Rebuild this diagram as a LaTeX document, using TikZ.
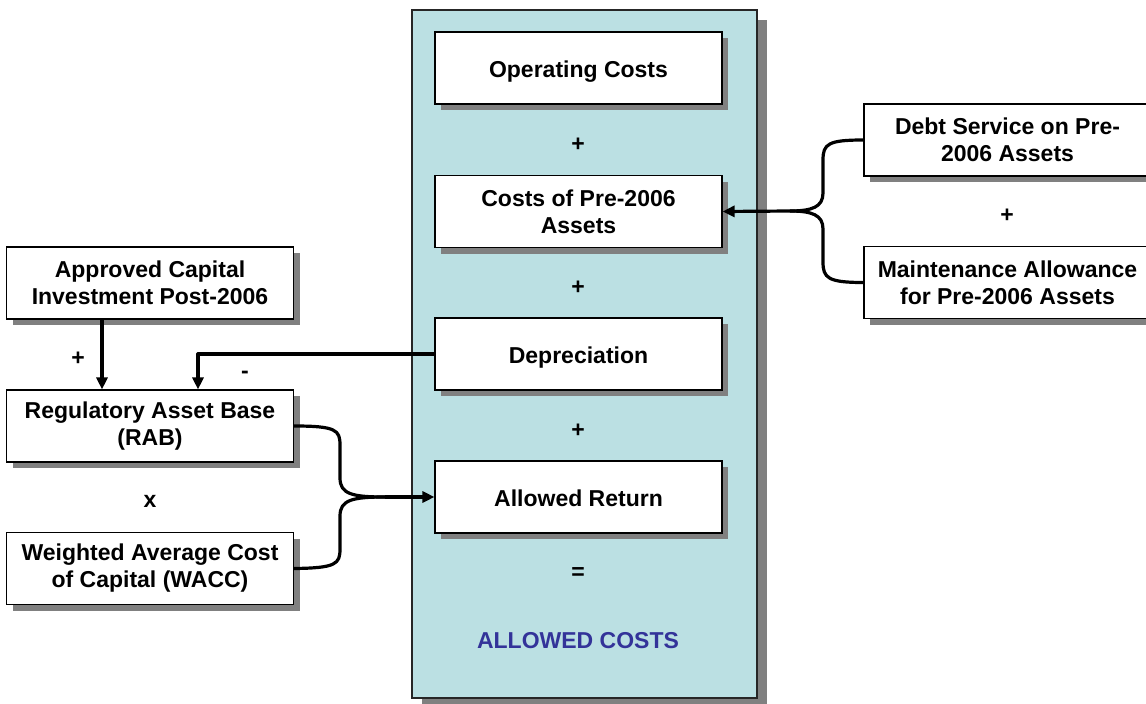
\documentclass[tikz,border=0pt]{standalone}
\usepackage{fontspec}
\setmainfont{Liberation Sans}
\usetikzlibrary{shadows,arrows.meta}
\definecolor{panelblue}{HTML}{BBE0E3}
\definecolor{shadowgray}{HTML}{808080}
\definecolor{titleblue}{HTML}{333399}
\begin{document}
\begin{tikzpicture}[x=1pt,y=-1pt,
  txt/.style={font=\fontsize{23}{27}\selectfont\bfseries},
  box/.style={txt,draw=black,line width=1.1pt,fill=white,minimum width=287pt,minimum height=72pt,align=center,inner sep=0pt,
    drop shadow={shadow xshift=6pt,shadow yshift=-6pt,fill=shadowgray,opacity=1}},
  oneline/.style={text height=19pt,text depth=0pt},
  panel/.style={draw=black!85,line width=1.1pt,fill=panelblue,minimum width=345pt,minimum height=688pt,inner sep=0pt,
    drop shadow={shadow xshift=10pt,shadow yshift=-10pt,fill=shadowgray,opacity=1}},
  sym/.style={txt,inner sep=0pt},
  conn/.style={line width=3.2pt,line join=round},
  tip/.style={-{Triangle[length=12pt,width=11pt]}}
]
\useasboundingbox (0,0) rectangle (1146,704);
\node[panel] (panel) at (584.5,354) {};
\node[box,oneline] (ops) at (578.5,68) {Operating Costs};
\node[box] (pre) at (578.5,211.5) {Costs of Pre-2006\\Assets};
\node[box,oneline] (dep) at (578.5,354) {Depreciation};
\node[box,oneline] (ret) at (578.5,497) {Allowed Return};
\node[sym] (p1) at (578,145) {+};
\node[sym] (p2) at (578,288) {+};
\node[sym] (p3) at (578,431) {+};
\node[sym] (eq) at (578,574) {=};
\node[txt,text=titleblue,inner sep=0pt] (total) at (578,641) {ALLOWED COSTS};

\node[box] (debt) at (1007.5,140) {Debt Service on Pre-\\2006 Assets};
\node[box] (maint) at (1007.5,282.5) {Maintenance Allowance\\for Pre-2006 Assets};
\node[sym] (p4) at (1007,216) {+};

\node[box] (app) at (150,283) {Approved Capital\\Investment Post-2006};
\node[box] (rab) at (150,426) {Regulatory Asset Base\\(RAB)};
\node[box] (wacc) at (150,568.5) {Weighted Average Cost\\of Capital (WACC)};
\node[sym] (p5) at (78,359) {+};
\node[sym] (m1) at (245,375) {-};
\node[sym] (x1) at (150,501) {x};

\coordinate (jl) at (385,497);
\coordinate (jr) at (790,211);

\draw[conn,tip] ([xshift=-48pt]app.south) -- ([xshift=-48pt]rab.north);
\draw[conn,tip] (dep.west) -| ([xshift=48pt]rab.north);

\draw[conn] (rab.east) .. controls (336,426) and (340,430) .. (340,445) -- (340,478)
  .. controls (340,494) and (352,497) .. (jl);
\draw[conn] (wacc.east) .. controls (336,568) and (340,564) .. (340,549) -- (340,516)
  .. controls (340,500) and (352,497) .. (jl);
\draw[conn,tip] (jl) -- (ret.west);

\draw[conn] (debt.west) .. controls (828,140) and (823,144) .. (823,160) -- (823,193)
  .. controls (823,207) and (812,211) .. (jr);
\draw[conn] (maint.west) .. controls (828,282.5) and (823,278) .. (823,262) -- (823,229)
  .. controls (823,215) and (812,211) .. (jr);
\draw[conn,tip] (jr) -- (pre.east);
\end{tikzpicture}
\end{document}
